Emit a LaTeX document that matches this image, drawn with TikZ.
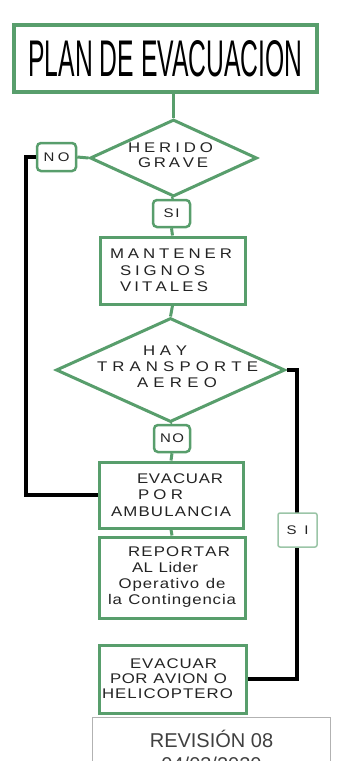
\documentclass[tikz,border=0pt]{standalone}
\usepackage{fontspec}
\setmainfont{Liberation Sans}
\newfontfamily\bxf[FakeStretch=1.2]{Liberation Sans}
\usetikzlibrary{shapes.geometric}
\definecolor{gr}{RGB}{88,158,108}
\definecolor{tx}{RGB}{35,35,35}
\ExplSyntaxOn
\NewDocumentCommand \spr { m m } { \makebox[#1][s]{ \str_map_inline:nn {#2} { ##1 \hfil } \unskip } }
\ExplSyntaxOff
\begin{document}
\begin{tikzpicture}[x=1pt,y=-1pt,
  box/.style={draw=gr,line width=3pt,fill=white,inner sep=0pt,align=center,text=tx,font=\bxf\fontsize{14}{16.5}\selectfont},
  yn/.style={draw=gr,line width=2.5pt,fill=white,rounded corners=4pt,inner sep=0pt,text=tx,font=\bxf\fontsize{12.5}{14}\selectfont},
  dia/.style={diamond,draw=gr,line width=3pt,fill=white,inner sep=0pt},
  txt/.style={inner sep=0pt,align=center,text=tx,font=\bxf\fontsize{14}{15}\selectfont},
  gl/.style={draw=gr,line width=3pt},
  bk/.style={draw=black,line width=3.5pt}]
\useasboundingbox (0,0) rectangle (357,761);
\clip (0,0) rectangle (357,761);
% title
\node[draw=gr,line width=3.5pt,minimum width=303pt,minimum height=67pt,inner sep=0pt,text=black] (title) at (165.5,58.5)
  {\resizebox{274pt}{36pt}{\fontsize{50}{50}\selectfont PLAN DE EVACUACION}};
% diamonds
\node[dia,minimum width=167pt,minimum height=77pt] (d1) at (173.5,158) {};
\node[txt] (d1t) at (172,155) {\hspace*{-3pt}\spr{85pt}{HERIDO}\\\hspace*{2pt}\spr{70pt}{GRAVE}};
\node[dia,minimum width=229pt,minimum height=104pt] (d2) at (170.5,370) {};
\node[txt,font=\bxf\fontsize{14}{16}\selectfont] (d2t) at (172,367) {\hspace*{-14pt}\spr{44pt}{HAY}\\\hspace*{11pt}\spr{161pt}{TRANSPORTE}\\\hspace*{10pt}\spr{80pt}{AEREO}};
% boxes
\node[box,minimum width=145pt,minimum height=67pt] (m) at (172.5,270.5)
  {\hspace*{-3pt}\spr{122pt}{MANTENER}\\\hspace*{-20pt}\spr{85pt}{SIGNOS}\\\hspace*{-17pt}\spr{88pt}{VITALES}};
\node[box,minimum width=144pt,minimum height=66pt] (e1) at (171,495)
  {\hspace*{18pt}\spr{86pt}{EVACUAR}\\\hspace*{-21pt}\spr{45pt}{POR}\\\spr{120pt}{AMBULANCIA}};
\node[box,minimum width=146pt,minimum height=81pt,font=\bxf\fontsize{14}{16}\selectfont] (rep) at (172,577.5)
  {\hspace*{14pt}\spr{102pt}{REPORTAR}\\\hspace*{-14pt}\spr{66pt}{AL Lider}\\\spr{107pt}{Operativo de}\\\spr{128pt}{la Contingencia}};
\node[box,minimum width=147pt,minimum height=68pt,font=\bxf\fontsize{14}{15}\selectfont] (e3) at (172.5,679)
  {\hspace*{2pt}\spr{87pt}{EVACUAR}\\\hspace*{-8pt}\spr{117pt}{POR AVION O}\\\hspace*{-10pt}\spr{131pt}{HELICOPTERO}};
% yes/no tags
\node[yn,minimum width=37pt,minimum height=27pt] (si1) at (171.5,213.5) {\spr{16pt}{SI}};
\node[yn,minimum width=36pt,minimum height=27pt] (no2) at (172,438.5) {\spr{24pt}{NO}};
\node[yn,minimum width=39pt,minimum height=28pt] (no1) at (56.5,157) {\spr{26pt}{NO}};
% connectors
\draw[gl] (title.south -| d1.north) -- (d1.north);
\draw[gl] (d1.south) -- (si1.north);
\draw[gl] (si1.south) -- (m.north);
\draw[gl] (m.south) -- (d2.north);
\draw[gl] (d2.south) -- (no2.north);
\draw[gl] (no2.south) -- (e1.north);
\draw[gl] (e1.south) -- (rep.north);
\draw[gl] (d1.west) -- (no1.east);
\coordinate (lc) at (26,157);
\draw[bk] (no1.west) -- (lc) |- (e1.west);
\coordinate (rc) at (297,370);
\draw[bk] (d2.east) -- (rc) |- (e3.east);
\node[yn,draw=gr!60,line width=1.5pt,rounded corners=2pt,minimum width=39pt,minimum height=34pt] (si2) at (297.5,530) {\spr{22pt}{SI}};
% revision
\node[draw=gray!60,line width=1pt,minimum width=238pt,minimum height=90pt,anchor=north west,inner sep=0pt] (revbox) at (92,717) {};
\node[anchor=base,inner sep=0pt,text=black!75,font=\fontsize{20}{24}\selectfont] (rev) at (211.5,747) {REVISIÓN 08};
\node[anchor=base,inner sep=0pt,text=black!75,font=\fontsize{20}{24}\selectfont] (date) at (211.5,771) {04/03/2020};
\end{tikzpicture}
\end{document}
